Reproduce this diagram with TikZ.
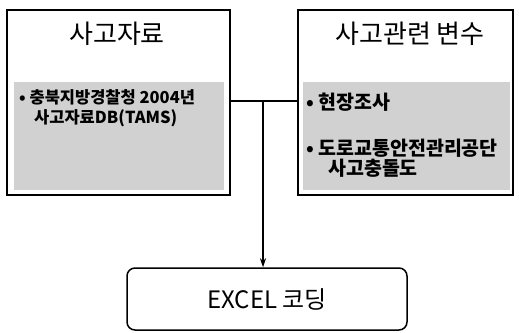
\documentclass[tikz,border=0pt]{standalone}
\usepackage{fontspec}
\setmainfont{Noto Sans CJK KR}
\usetikzlibrary{arrows.meta}
\tikzset{
  outerbox/.style={draw=black, line width=1.5pt, fill=white},
  graybox/.style={fill=black!18, draw=none},
  title/.style={font=\fontsize{26}{30}\selectfont, anchor=center},
  bullettxt/.style={font=\bfseries\fontsize{16.5}{20}\selectfont, anchor=west, inner sep=0pt},
  bullettxtR/.style={font=\bfseries\fontsize{19.5}{22}\selectfont, anchor=west, inner sep=0pt},
  conn/.style={line width=1.2pt, draw=black},
  endbox/.style={draw=black, line width=1.5pt, rounded corners=8pt, minimum width=280pt, minimum height=62pt, font=\fontsize{24}{28}\selectfont}
}
\begin{document}
\begin{tikzpicture}[x=1pt,y=-1pt]
\useasboundingbox (0,0) rectangle (519,332);
% left box
\draw[outerbox] (7,10) rectangle (230,195);
\fill[graybox] (14,82) rectangle (224,190);
\node[title] (lt) at (117,34) {사고자료};
\node[bullettxt] (lb1) at (19,97) {• 충북지방경찰청 2004년};
\node[bullettxt] (lb2) at (34,118) {사고자료DB(TAMS)};
% right box
\draw[outerbox] (298,10) rectangle (513,195);
\fill[graybox] (303,82) rectangle (510,190);
\node[title] (rt) at (410,34) {사고관련 변수};
\node[bullettxtR] (rb1) at (306,102) {• 현장조사};
\node[bullettxtR] (rb2) at (306,148) {• 도로교통안전관리공단};
\node[bullettxtR] (rb3) at (328,168) {사고충돌도};
% coordinates for connectors
\coordinate (L) at (230,101);
\coordinate (R) at (298,101);
\coordinate (J) at (263,101);
% bottom box
\node[endbox] (ex) at (267,299) {EXCEL 코딩};
\draw[conn] (L) -- (R);
\draw[conn, -{Stealth[length=9pt,width=6pt]}] (J) -- (J |- ex.north);
\end{tikzpicture}
\end{document}
